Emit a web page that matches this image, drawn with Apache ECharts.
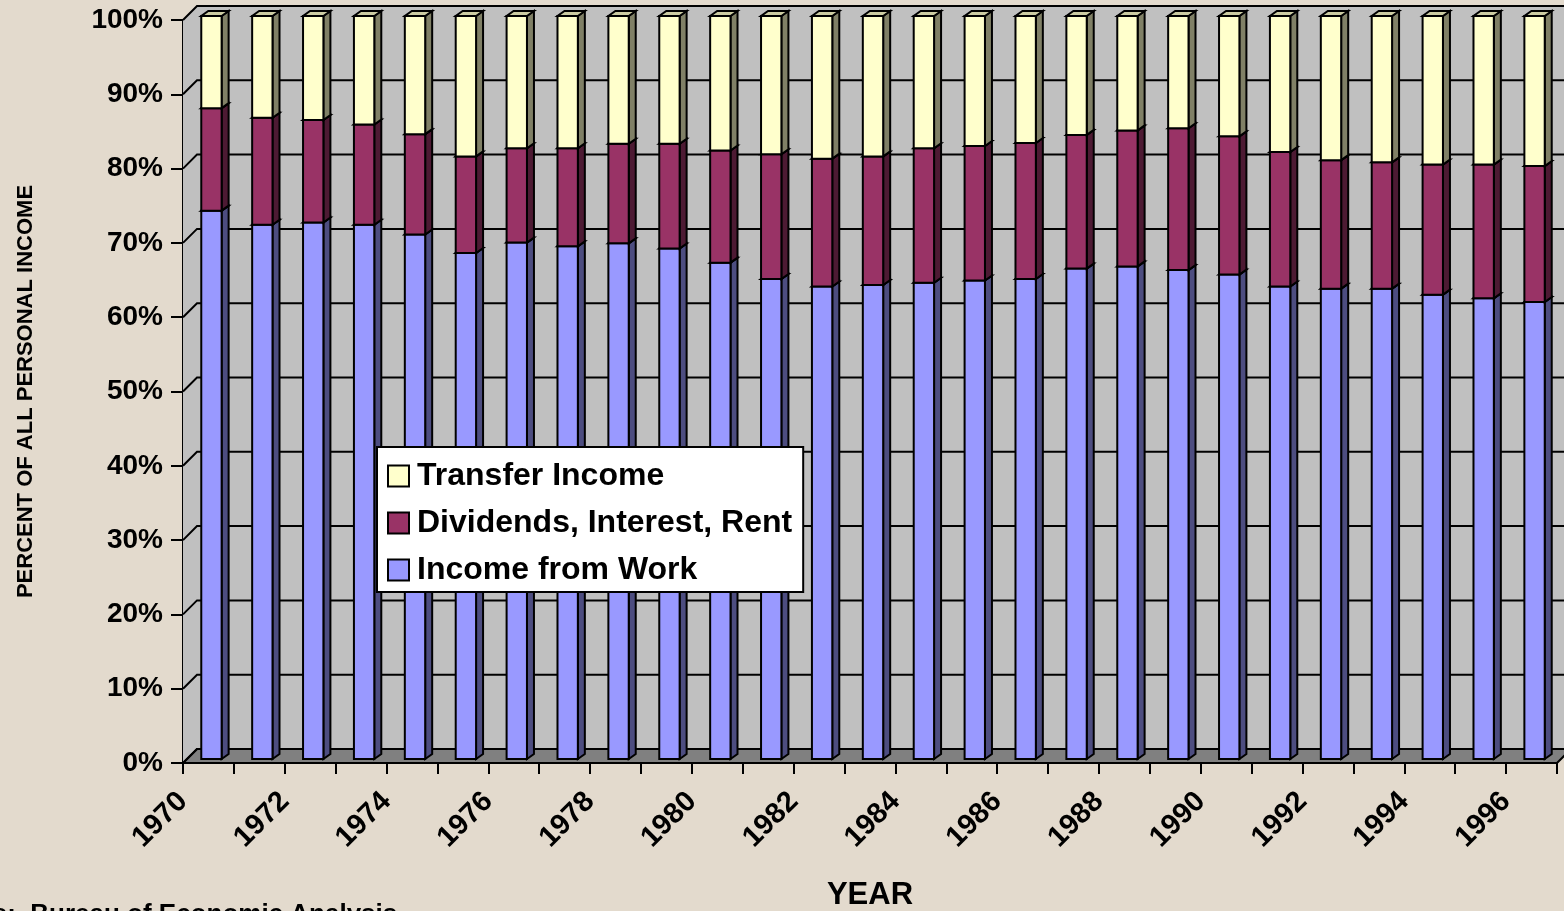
<!DOCTYPE html>
<html>
<head>
<meta charset="utf-8">
<title>Personal income by source, 1970-1996</title>
<script src="https://cdn.jsdelivr.net/npm/echarts@6/dist/echarts.min.js"></script>
<style>
  html, body { margin: 0; padding: 0; background: #e3dacd; }
  #chart { width: 1564px; height: 911px; }
</style>
</head>
<body>
<div id="chart"></div>
<script>
  // categories (one bar per year)
  const years = ['1970', '1971', '1972', '1973', '1974', '1975', '1976', '1977', '1978', '1979',
    '1980', '1981', '1982', '1983', '1984', '1985', '1986', '1987', '1988', '1989',
    '1990', '1991', '1992', '1993', '1994', '1995', '1996']
  // labels sit on the tick marks between bars, every other year
  const tickLabels = ['1970', '', '1972', '', '1974', '', '1976', '', '1978', '', '1980', '', '1982', '',
    '1984', '', '1986', '', '1988', '', '1990', '', '1992', '', '1994', '', '1996', '']
  const yTicks = [0, 10, 20, 30, 40, 50, 60, 70, 80, 90, 100]

  // percent of all personal income
  const incomeFromWork = [73.8, 71.9, 72.2, 71.9, 70.6, 68.1, 69.5, 69.0, 69.4, 68.7,
    66.8, 64.6, 63.6, 63.8, 64.1, 64.4, 64.6, 66.0, 66.3, 65.8,
    65.2, 63.6, 63.3, 63.3, 62.5, 62.0, 61.5]
  const dividendsInterestRent = [13.8, 14.4, 13.8, 13.5, 13.5, 13.0, 12.7, 13.2, 13.4, 14.1,
    15.1, 16.8, 17.2, 17.3, 18.1, 18.1, 18.3, 18.0, 18.3, 19.1,
    18.6, 18.1, 17.3, 17.0, 17.5, 18.0, 18.3]
  const transferIncome = [12.4, 13.7, 14.0, 14.6, 15.9, 18.9, 17.8, 17.8, 17.2, 17.2,
    18.1, 18.6, 19.2, 18.9, 17.8, 17.5, 17.1, 16.0, 15.4, 15.1,
    16.2, 18.3, 19.4, 19.7, 20.0, 20.0, 20.2]

  const FONT = '"Liberation Sans", Arial, sans-serif'
  const DEPTH = 14          // depth of the 3d box (px, 45 degrees)
  const BAR_SHIFT = [3, -4] // bar front face sits a bit inside the box
  const BAR_DEPTH = [7, -5] // bar side / top face

  // stack segment rows: [category index, base, top]
  function stackRows(values, below) {
    return values.map((v, i) => {
      const base = below.reduce((s, arr) => s + arr[i], 0)
      return [i, base, base + v]
    })
  }

  const line = { stroke: '#000', lineWidth: 2 }

  function barRenderer(front, side, top) {
    return function(params, api) {
      const i = api.value(0)
      const p0 = api.coord([i, api.value(1)])
      const p1 = api.coord([i, api.value(2)])
      const w = api.size([1, 0])[0] * 0.4
      const xl = p0[0] - w / 2 + BAR_SHIFT[0]
      const xr = xl + w
      const yb = p0[1] + BAR_SHIFT[1]
      const yt = p1[1] + BAR_SHIFT[1]
      const dx = BAR_DEPTH[0]
      const dy = BAR_DEPTH[1]
      return {
        type: 'group',
        children: [
          { type: 'polygon', shape: { points: [[xr, yb], [xr + dx, yb + dy], [xr + dx, yt + dy], [xr, yt]] },
            style: Object.assign({ fill: side }, line) },
          { type: 'polygon', shape: { points: [[xl, yt], [xr, yt], [xr + dx, yt + dy], [xl + dx, yt + dy]] },
            style: Object.assign({ fill: top }, line) },
          { type: 'rect', shape: { x: xl, y: yt, width: w, height: yb - yt },
            style: Object.assign({ fill: front }, line) }
        ]
      }
    }
  }

  // back wall, side wall, floor and the gridlines, from the axis scales
  function wallRenderer(params, api) {
    const cs = params.coordSys
    const x0 = cs.x
    const x1 = cs.x + cs.width
    const top = cs.y
    const bot = cs.y + cs.height
    const y = api.coord([0, api.value(1)])[1]
    const children = []
    if (params.dataIndex === 0) {
      children.push(
        { type: 'polygon', shape: { points: [[x0 + DEPTH, top - DEPTH], [x1 + DEPTH, top - DEPTH], [x1 + DEPTH, bot - DEPTH], [x0 + DEPTH, bot - DEPTH]] },
          style: { fill: '#c0c0c0' } },
        { type: 'polygon', shape: { points: [[x0, top], [x0 + DEPTH, top - DEPTH], [x0 + DEPTH, bot - DEPTH], [x0, bot]] },
          style: { fill: '#c0c0c0' } },
        { type: 'polygon', shape: { points: [[x0, bot], [x0 + DEPTH, bot - DEPTH], [x1 + DEPTH, bot - DEPTH], [x1, bot]] },
          style: Object.assign({ fill: '#808080' }, line) }
      )
    }
    children.push(
      { type: 'polyline', shape: { points: [[x0, y], [x0 + DEPTH, y - DEPTH], [x1 + DEPTH, y - DEPTH]] },
        style: Object.assign({ fill: null }, line) }
    )
    return { type: 'group', children: children }
  }

  const chart = echarts.init(document.getElementById('chart'))
  chart.setOption({
    backgroundColor: '#e3dacd',
    animation: false,
    textStyle: { fontFamily: FONT },
    grid: { left: 183, top: 20, right: 7, bottom: 148, outerBoundsMode: 'none' },
    legend: {
      data: ['Transfer Income', 'Dividends, Interest, Rent', 'Income from Work'],
      orient: 'vertical',
      left: 377,
      top: 447,
      backgroundColor: '#fff',
      borderColor: '#000',
      borderWidth: 2,
      borderRadius: 0,
      padding: [13, 11, 6, 10],
      itemWidth: 21,
      itemHeight: 21,
      itemGap: 15,
      icon: 'rect',
      itemStyle: { borderColor: '#000', borderWidth: 2 },
      selectedMode: false,
      textStyle: { fontFamily: FONT, fontSize: 32, fontWeight: 'bold', color: '#000', lineHeight: 32, padding: [0, 0, 0, 3] }
    },
    xAxis: [{
      type: 'category',
      data: years,
      show: false
    }, {
      type: 'category',
      data: tickLabels,
      position: 'bottom',
      boundaryGap: false,
      axisLine: { lineStyle: { color: '#000', width: 2 } },
      axisTick: { show: true, interval: 0, length: 11, lineStyle: { color: '#000', width: 2 } },
      axisLabel: { interval: 0, rotate: 45, margin: 34, fontFamily: FONT, fontSize: 29, fontWeight: 'bold', color: '#000' },
      splitLine: { show: false },
      name: 'YEAR',
      nameLocation: 'middle',
      nameGap: 117,
      nameMoveOverlap: false,
      nameTextStyle: { fontFamily: FONT, fontSize: 31, fontWeight: 'bold', color: '#000' }
    }],
    yAxis: {
      type: 'value',
      min: 0,
      max: 100,
      interval: 10,
      axisLine: { show: true, lineStyle: { color: '#000', width: 2 } },
      axisTick: { show: true, length: 12, lineStyle: { color: '#000', width: 2 } },
      axisLabel: { formatter: '{value}%', margin: 20, fontFamily: FONT, fontSize: 28, fontWeight: 'bold', color: '#000' },
      splitLine: { show: false },
      name: 'PERCENT OF ALL PERSONAL INCOME',
      nameLocation: 'middle',
      nameRotate: 90,
      nameGap: 146,
      nameMoveOverlap: false,
      nameTextStyle: { fontFamily: FONT, fontSize: 22, fontWeight: 'bold', color: '#000' }
    },
    graphic: [{
      type: 'text',
      left: -81,
      top: 902,
      silent: true,
      style: { text: 'Source:  Bureau of Economic Analysis', fontFamily: FONT, fontSize: 26, fontWeight: 'bold', fill: '#000' }
    }],
    series: [{
      name: 'walls',
      type: 'custom',
      z: 1,
      silent: true,
      renderItem: wallRenderer,
      encode: { x: 0, y: 1 },
      data: yTicks.map(v => [0, v])
    }, {
      name: 'Income from Work',
      type: 'custom',
      z: 3,
      itemStyle: { color: '#9999ff' },
      renderItem: barRenderer('#9999ff', '#4d4d80', '#7a7acc'),
      encode: { x: 0, y: [1, 2] },
      data: stackRows(incomeFromWork, [])
    }, {
      name: 'Dividends, Interest, Rent',
      type: 'custom',
      z: 3,
      itemStyle: { color: '#993366' },
      renderItem: barRenderer('#993366', '#4d1a33', '#7a2952'),
      encode: { x: 0, y: [1, 2] },
      data: stackRows(dividendsInterestRent, [incomeFromWork])
    }, {
      name: 'Transfer Income',
      type: 'custom',
      z: 3,
      itemStyle: { color: '#ffffcc' },
      renderItem: barRenderer('#ffffcc', '#808066', '#ccccA3'),
      encode: { x: 0, y: [1, 2] },
      data: stackRows(transferIncome, [incomeFromWork, dividendsInterestRent])
    }]
  })
</script>
</body>
</html>
